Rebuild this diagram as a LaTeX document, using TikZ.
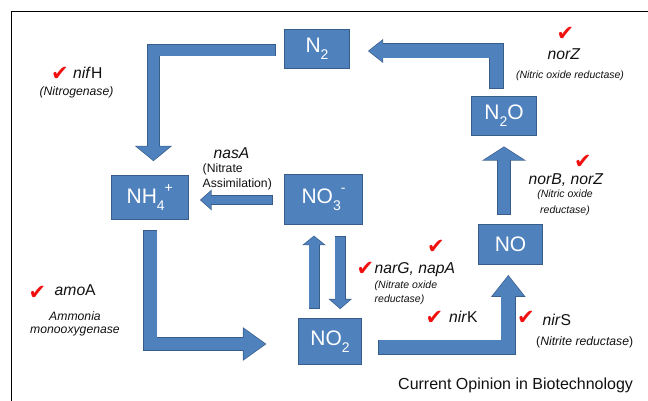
\documentclass[tikz,border=0pt]{standalone}
\usepackage{fontspec}
\setmainfont{Liberation Sans}
\newfontfamily\symfont{DejaVu Sans}
\usetikzlibrary{arrows.meta,calc}
\definecolor{boxfill}{HTML}{4F81BD}
\definecolor{boxline}{HTML}{385D8A}
\definecolor{tickred}{HTML}{F01010}
\definecolor{inkc}{HTML}{111111}
\newcommand{\fs}[1]{\fontsize{#1}{#1}\selectfont}
\newcommand{\lowd}[1]{\raisebox{-0.32em}{\fs{14}#1}}
\newcommand{\highd}[1]{\raisebox{0.5em}{\fs{14}#1}}
\tikzset{
  x=1pt,y=-1pt,
  species/.style={draw=boxline,fill=boxfill,line width=1.3pt,text=white,inner sep=0pt,font=\fs{21}},
  gene/.style={inner sep=0pt,text=inkc,font=\fs{15.7}},
  enzyme/.style={inner sep=0pt,text=inkc,font=\fs{12.2}\itshape},
  smallenzyme/.style={inner sep=0pt,text=inkc,font=\fs{10.5}\itshape},
  plainnote/.style={inner sep=0pt,text=inkc,font=\fs{12.2}},
  tickmark/.style={inner sep=0pt,text=tickred,font=\symfont\fs{21}},
  ref/.style={inner sep=0pt,text=inkc,font=\fs{16}}
}
% width, head width, head length, shorten start, shorten end, path
\newcommand{\blockconn}[6]{%
  \pgfmathsetmacro{\bw}{0.65}%
  \pgfmathsetmacro{\sina}{(#2/2)/sqrt((#2/2)*(#2/2)+#3*#3)}%
  \pgfmathsetmacro{\ins}{\bw/\sina}%
  \pgfmathsetmacro{\ilen}{#3-\bw-\ins}%
  \pgfmathsetmacro{\iwid}{#2*\ilen/#3}%
  \pgfmathsetmacro{\iw}{#1-2*\bw}%
  \pgfmathsetmacro{\iss}{#4+\bw}%
  \pgfmathsetmacro{\ise}{#5+\ins}%
  \draw[boxline,line width=#1pt,-{Triangle[width=#2pt,length=#3pt]},shorten <=#4pt,shorten >=#5pt] #6;
  \draw[boxfill,line width=\iw pt,-{Triangle[width=\iwid pt,length=\ilen pt]},shorten <=\iss pt,shorten >=\ise pt] #6;
}
\begin{document}
\begin{tikzpicture}
\useasboundingbox (0,0) rectangle (648,401);
\draw[black,line width=1pt] (648,11.5) -- (11.5,11.5) -- (11.5,401);

\node[species,minimum width=65pt,minimum height=39pt] (n2) at (317,49) {N\lowd{2}};
\node[species,minimum width=65pt,minimum height=39pt] (n2o) at (504,116) {N\lowd{2}O};
\node[species,minimum width=77pt,minimum height=44pt] (nh4) at (149.75,197.5) {NH\lowd{4}\highd{+}};
\node[species,minimum width=78pt,minimum height=50pt] (no3) at (323.5,199.5) {NO\lowd{3}\highd{-}};
\node[species,minimum width=64pt,minimum height=40pt] (no) at (510.5,244.5) {NO};
\node[species,minimum width=63pt,minimum height=46pt] (no2) at (330,341.5) {NO\lowd{2}};

\blockconn{12.5}{36.5}{15.3}{8}{13.7}{($(n2.west)+(0,1.2)$) -| ($(nh4.north)+(3.7,0)$)}
\blockconn{15}{23}{15.3}{6.7}{17.7}{($(n2o.north)+(-7.5,0)$) |- ($(n2.east)+(0,2)$)}
\blockconn{13.4}{43.4}{14.2}{9.3}{10.3}{($(no.north)+(-6.5,0)$) -- (n2o.south)}
\blockconn{9.5}{20}{11.7}{11.3}{11}{($(no3.west)+(0,0.5)$) -- ($(nh4.east)+(0,2.5)$)}
\blockconn{14}{32}{23.7}{10}{31.3}{($(nh4.south)+(0.4,0)$) |- ($(no2.west)+(0,2.5)$)}
\blockconn{11}{23}{9.5}{9}{10.5}{($(no2.north)+(-16,0)$) -- ($(no3.south)+(-9.5,0)$)}
\blockconn{11}{23}{10.3}{10.7}{8.7}{($(no3.south)+(16.7,0)$) -- ($(no2.north)+(10.2,0)$)}
\blockconn{15}{33}{22}{16}{9.7}{($(no2.east)+(0,5.5)$) -| ($(no.south)+(-2.2,0)$)}

\node[tickmark] (t1) at (60,74) {✔};
\node[gene,anchor=west] (g1) at (73,73) {\textit{nif}H};
\node[enzyme] (e1) at (76.5,92) {(Nitrogenase)};

\node[gene] (g2) at (231.5,153) {\textit{nasA}};
\node[plainnote,anchor=west] (e2a) at (202.5,169) {(Nitrate};
\node[plainnote,anchor=west] (e2b) at (202.5,184) {Assimilation)};

\node[tickmark] (t3) at (565.5,34) {✔};
\node[gene] (g3) at (564,54) {\textit{norZ}};
\node[smallenzyme] (e3) at (570,75.5) {(Nitric oxide reductase)};

\node[tickmark] (t4) at (583,162) {✔};
\node[gene] (g4) at (566,180) {\textit{norB, norZ}};
\node[smallenzyme] (e4a) at (565,195) {(Nitric oxide};
\node[smallenzyme] (e4b) at (565,210.5) {reductase)};

\node[tickmark] (t5) at (436,247) {✔};
\node[tickmark] (t6) at (365.5,269) {✔};
\node[gene,anchor=west] (g5) at (374.5,270) {\textit{narG, napA}};
\node[smallenzyme,anchor=west] (e5a) at (374.5,285.5) {(Nitrate oxide};
\node[smallenzyme,anchor=west] (e5b) at (374.5,299.5) {reductase)};

\node[tickmark] (t7) at (434.5,318) {✔};
\node[gene,anchor=west] (g7) at (449,317) {\textit{nir}K};

\node[tickmark] (t8) at (526,318) {✔};
\node[gene,anchor=west] (g8) at (542.5,320) {\textit{nir}S};
\node[enzyme,anchor=west] (e8) at (536,342) {\textup{(}Nitrite reductase\textup{)}};

\node[tickmark] (t9) at (37.5,293) {✔};
\node[gene,anchor=west] (g9) at (54.5,290) {\textit{amo}A};
\node[enzyme] (e9a) at (75,316) {Ammonia};
\node[enzyme] (e9b) at (75,331) {monooxygenase};

\node[ref,anchor=west] (src) at (398,385.5) {Current Opinion in Biotechnology};
\end{tikzpicture}
\end{document}
